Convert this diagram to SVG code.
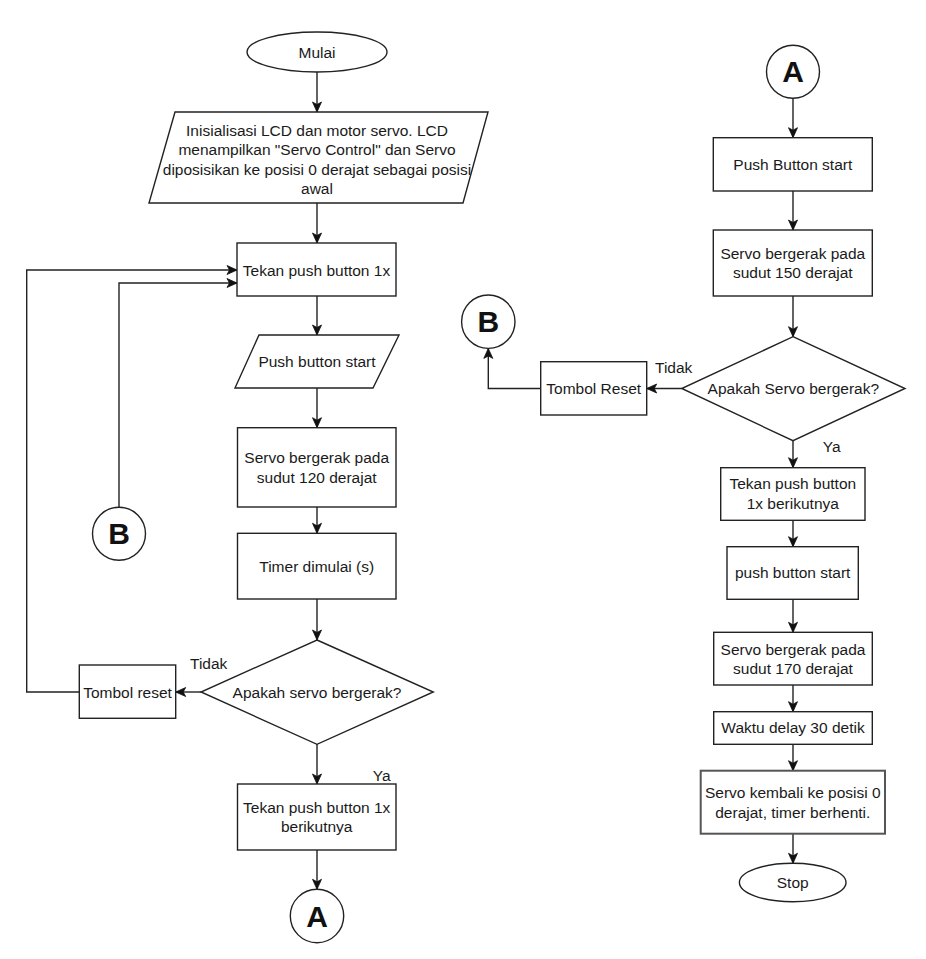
<svg xmlns="http://www.w3.org/2000/svg" width="926" height="959" viewBox="0 0 926 959">
<style>
.s{fill:#fff;stroke:#222;stroke-width:1.4}
.t{font-family:"Liberation Sans",Arial,sans-serif;font-size:15.5px;fill:#1a1a1a;text-anchor:middle}
.l{font-family:"Liberation Sans",Arial,sans-serif;font-size:15.5px;fill:#1a1a1a}
.c{font-family:"Liberation Sans",Arial,sans-serif;font-size:30px;font-weight:bold;fill:#111;text-anchor:middle}
.e{fill:none;stroke:#222;stroke-width:1.4;marker-end:url(#ah)}
</style>
<defs>
<marker id="ah" markerUnits="userSpaceOnUse" markerWidth="12" markerHeight="12" viewBox="0 0 12 12" refX="11" refY="6" orient="auto">
<path d="M1,1.5 L11,6 L1,10.5 L3.5,6 Z" fill="#111" stroke="#111" stroke-width="0.8"/>
</marker>
</defs>
<rect width="926" height="959" fill="#fff"/>
<g id="connectors">
<path class="e" d="M317,72 V112"/>
<path class="e" d="M317,203 V243"/>
<path class="e" d="M317,296 V335"/>
<path class="e" d="M317,388 V427.7"/>
<path class="e" d="M317,507 V533.3"/>
<path class="e" d="M317,599 V640"/>
<path class="e" d="M201,692 H175.7"/>
<path class="e" d="M79.3,692 H26.7 V270 H237"/>
<path class="e" d="M119,507.2 V283 H237"/>
<path class="e" d="M317,744 V784"/>
<path class="e" d="M317,850 V889.3"/>
<path class="e" d="M793,98.2 V137.7"/>
<path class="e" d="M793,191 V230"/>
<path class="e" d="M793,296 V336.7"/>
<path class="e" d="M681.7,388.5 H646.7"/>
<path class="e" d="M540.7,388.5 H488.3 V348.4"/>
<path class="e" d="M793,440.7 V467.7"/>
<path class="e" d="M793,520.3 V546.7"/>
<path class="e" d="M793,599.3 V632.3"/>
<path class="e" d="M793,685 V711.7"/>
<path class="e" d="M793,744.3 V770.7"/>
<path class="e" d="M793,833.7 V863.3"/>
<text class="l" x="190" y="669">Tidak</text>
<text class="l" x="372.7" y="781">Ya</text>
<text class="l" x="655" y="373">Tidak</text>
<text class="l" x="822.7" y="452">Ya</text>
</g>
<g id="start"><ellipse class="s" cx="317" cy="52" rx="70" ry="20"/><text class="t" x="317" y="57.5">Mulai</text></g>
<g id="init"><polygon class="s" points="175,112 488,112 463,203 149,203"/>
<text class="t" x="317" y="135.5">Inisialisasi LCD dan motor servo. LCD</text>
<text class="t" x="317" y="155">menampilkan "Servo Control" dan Servo</text>
<text class="t" x="317" y="174.5">diposisikan ke posisi 0 derajat sebagai posisi</text>
<text class="t" x="317" y="194">awal</text></g>
<g id="tekan1"><rect class="s" x="237" y="243" width="159" height="53"/><text class="t" x="316.5" y="275.5">Tekan push button 1x</text></g>
<g id="pbs1"><polygon class="s" points="259,335 399,335 373,388 235,388"/><text class="t" x="317" y="366.5">Push button start</text></g>
<g id="servo120"><rect class="s" x="237.5" y="427.7" width="158.5" height="79.3"/><text class="t" x="316.7" y="462.5">Servo bergerak pada</text><text class="t" x="316.7" y="482.5">sudut 120 derajat</text></g>
<g id="timer"><rect class="s" x="237.5" y="533.3" width="158.5" height="65.7"/><text class="t" x="316.7" y="571.5">Timer dimulai (s)</text></g>
<g id="dec1"><polygon class="s" points="317,640 433.3,692 317,744.3 201,692"/><text class="t" x="317" y="697.5">Apakah servo bergerak?</text></g>
<g id="reset1"><rect class="s" x="79.3" y="665" width="96.4" height="53.3"/><text class="t" x="127.5" y="697.5">Tombol reset</text></g>
<g id="tekan2"><rect class="s" x="237.5" y="784" width="158.5" height="66"/><text class="t" x="316.7" y="812.8">Tekan push button 1x</text><text class="t" x="316.7" y="832.3">berikutnya</text></g>
<g id="A1"><circle class="s" cx="317" cy="916" r="26.7"/><text class="c" x="317" y="926.5">A</text></g>
<g id="B1"><circle class="s" cx="119" cy="533.7" r="26.5"/><text class="c" x="119" y="544.2">B</text></g>
<g id="A2"><circle class="s" cx="793" cy="71.7" r="26.5"/><text class="c" x="793" y="82.2">A</text></g>
<g id="pb2"><rect class="s" x="713.3" y="137.7" width="159" height="53.3"/><text class="t" x="792.8" y="169.5">Push Button start</text></g>
<g id="servo150"><rect class="s" x="713.3" y="230" width="159" height="66"/><text class="t" x="792.8" y="258.8">Servo bergerak pada</text><text class="t" x="792.8" y="278.2">sudut 150 derajat</text></g>
<g id="dec2"><polygon class="s" points="793,336.7 905,388.5 793,440.7 681.7,388.5"/><text class="t" x="793.3" y="394">Apakah Servo bergerak?</text></g>
<g id="reset2"><rect class="s" x="540.7" y="361.7" width="106" height="53.3"/><text class="t" x="593.7" y="394">Tombol Reset</text></g>
<g id="B2"><circle class="s" cx="488.3" cy="321.7" r="26.7"/><text class="c" x="488.3" y="332.2">B</text></g>
<g id="tekan3"><rect class="s" x="720.7" y="467.7" width="144.3" height="52.6"/><text class="t" x="792.8" y="489.2">Tekan push button</text><text class="t" x="792.8" y="508.8">1x berikutnya</text></g>
<g id="pbs2"><rect class="s" x="727" y="546.7" width="131.3" height="52.6"/><text class="t" x="792.7" y="577.8">push button start</text></g>
<g id="servo170"><rect class="s" x="713.7" y="632.3" width="158.6" height="52.7"/><text class="t" x="793" y="654.5">Servo bergerak pada</text><text class="t" x="793" y="674.2">sudut 170 derajat</text></g>
<g id="waktu"><rect class="s" x="713.7" y="711.7" width="158.6" height="32.6"/><text class="t" x="793" y="732.8">Waktu delay 30 detik</text></g>
<g id="kembali"><rect class="s" x="700.7" y="770.7" width="184.3" height="63" style="stroke:#555;stroke-width:2"/><text class="t" x="792.8" y="797.8">Servo kembali ke posisi 0</text><text class="t" x="792.8" y="817.8">derajat, timer berhenti.</text></g>
<g id="stop"><ellipse class="s" cx="792.7" cy="882.5" rx="53.3" ry="19.2"/><text class="t" x="792.7" y="888">Stop</text></g>
</svg>
